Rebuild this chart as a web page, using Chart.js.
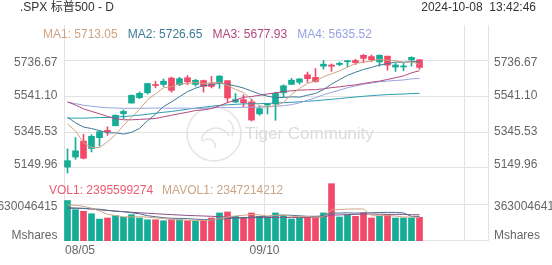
<!DOCTYPE html>
<html>
<head>
<meta charset="utf-8">
<script src="https://cdn.jsdelivr.net/npm/chart.js@4.4.0/dist/chart.umd.min.js"></script>
<style>
body { margin: 0; background: #fff; }
#wrap { position: relative; width: 552px; height: 265px; }
</style>
</head>
<body>
<div id="wrap"><canvas id="kline"></canvas></div>
<script>
// trading days shown
var dates = ['08/05','08/06','08/07','08/08','08/09','08/12','08/13','08/14','08/15','08/16',
  '08/19','08/20','08/21','08/22','08/23','08/26','08/27','08/28','08/29','08/30',
  '09/03','09/04','09/05','09/06','09/09','09/10','09/11','09/12','09/13','09/16',
  '09/17','09/18','09/19','09/20','09/23','09/24','09/25','09/26','09/27','09/30',
  '10/01','10/02','10/03','10/04','10/07'];

var opens = [5151.14,5206.42,5293.13,5252.57,5311.97,5351.88,5376.98,5442.82,5501.13,5530.50,
  5557.23,5602.88,5603.09,5637.77,5602.06,5639.66,5602.89,5624.50,5607.30,5612.74,
  5623.89,5506.68,5520.08,5507.33,5442.07,5490.51,5496.42,5557.48,5603.34,5615.21,
  5655.51,5641.68,5702.63,5709.20,5711.90,5727.07,5733.96,5762.22,5755.36,5726.52,
  5757.73,5698.19,5698.56,5737.80,5737.80];
var highs = [5250.89,5312.34,5330.64,5328.03,5350.72,5371.20,5436.50,5463.22,5546.23,5561.98,
  5608.30,5620.51,5632.68,5643.22,5641.82,5651.62,5631.18,5627.03,5646.95,5651.37,
  5623.89,5552.99,5546.30,5522.47,5484.20,5497.91,5560.41,5600.71,5636.27,5636.05,
  5670.81,5689.75,5733.57,5715.14,5725.36,5735.32,5741.03,5767.37,5763.78,5765.14,
  5757.73,5719.14,5718.78,5753.97,5739.34];
var lows = [5119.26,5193.56,5195.54,5233.85,5265.74,5324.37,5376.98,5415.18,5501.13,5525.23,
  5550.74,5584.48,5591.57,5560.95,5595.98,5602.34,5593.48,5560.95,5583.71,5581.79,
  5504.33,5503.41,5480.76,5402.62,5434.49,5441.72,5406.96,5535.50,5601.65,5604.53,
  5614.05,5615.08,5686.42,5674.49,5704.94,5698.99,5712.06,5721.01,5727.34,5703.53,
  5681.28,5674.00,5677.37,5702.52,5686.85];
var closes = [5186.33,5240.03,5199.50,5319.31,5344.16,5344.39,5434.43,5455.21,5543.22,5554.25,
  5608.25,5597.12,5620.85,5570.64,5634.61,5616.84,5625.80,5592.18,5591.96,5648.40,
  5528.93,5520.07,5503.41,5408.42,5471.05,5495.52,5554.13,5595.76,5626.02,5633.09,
  5634.58,5618.26,5713.64,5702.55,5718.57,5732.93,5722.26,5745.37,5738.17,5762.48,
  5708.75,5709.54,5699.94,5751.07,5695.94];

// moving averages as shown on the chart
var ma1 = [5387.66,5348.38,5283.82,5258.35,5257.87,5289.48,5328.36,5379.50,5424.28,5466.30,
  5519.07,5551.61,5584.74,5590.22,5606.29,5608.01,5613.75,5608.01,5612.28,5615.04,
  5597.45,5576.31,5558.55,5521.85,5486.38,5479.69,5486.51,5504.98,5548.50,5580.90,
  5608.72,5621.54,5645.12,5660.42,5677.52,5697.19,5717.99,5724.34,5731.46,5740.24,
  5735.41,5732.86,5723.78,5726.36,5713.05];
var ma2 = [5424.30,5392.73,5369.97,5361.98,5350.49,5338.57,5338.37,5331.66,5341.31,5362.08,
  5404.28,5439.98,5482.12,5507.25,5536.30,5563.54,5582.68,5596.38,5601.25,5610.67,
  5602.73,5595.03,5583.28,5567.06,5550.71,5538.57,5531.41,5531.77,5535.17,5533.64,
  5544.21,5554.02,5575.05,5604.46,5629.21,5652.95,5669.77,5684.73,5695.94,5708.88,
  5716.30,5725.43,5724.06,5728.91,5726.65];
var ma3 = [5507.73,5490.88,5469.16,5455.90,5442.34,5428.00,5416.36,5409.70,5409.64,5412.10,
  5414.29,5416.36,5426.04,5434.62,5443.39,5451.06,5460.52,5464.02,5471.28,5486.37,
  5503.50,5517.51,5532.70,5537.16,5543.50,5551.06,5557.04,5564.07,5568.21,5572.15,
  5573.47,5574.53,5579.17,5585.76,5589.96,5595.76,5600.59,5608.25,5615.56,5621.26,
  5630.25,5639.73,5649.55,5666.68,5677.93];
var ma4 = [5505.14,5498.21,5489.22,5483.93,5479.31,5475.44,5474.08,5472.29,5472.49,5472.06,
  5473.24,5473.91,5473.48,5473.01,5473.66,5473.18,5471.80,5471.93,5473.51,5478.29,
  5477.10,5475.92,5478.46,5478.76,5479.16,5480.23,5484.15,5486.60,5492.58,5502.13,
  5517.07,5529.68,5546.82,5559.59,5572.07,5585.02,5594.62,5604.29,5610.79,5617.73,
  5621.08,5624.83,5627.46,5633.48,5635.52];
var ma5 = [5418.53,5418.96,5418.58,5420.21,5421.83,5422.44,5424.73,5427.26,5431.18,5435.06,
  5440.08,5445.57,5450.83,5455.24,5461.37,5467.73,5473.53,5478.68,5483.69,5488.60,
  5491.53,5494.41,5496.79,5497.34,5498.18,5499.20,5501.25,5503.29,5505.61,5508.27,
  5511.10,5513.94,5518.02,5521.76,5525.69,5530.23,5534.35,5538.29,5541.64,5544.90,
  5547.16,5549.37,5550.47,5553.25,5554.59];

var volumes = [4.08e9,3.16e9,3.00e9,2.75e9,2.21e9,2.32e9,2.55e9,2.39e9,2.65e9,2.32e9,
  2.14e9,2.14e9,2.04e9,2.14e9,2.14e9,2.04e9,1.98e9,2.08e9,2.32e9,2.83e9,
  2.93e9,2.49e9,2.39e9,2.83e9,2.49e9,2.39e9,2.83e9,2.55e9,2.21e9,2.32e9,
  2.42e9,2.42e9,2.83e9,5.78e9,2.42e9,2.65e9,2.49e9,2.83e9,2.32e9,2.49e9,
  2.65e9,2.32e9,2.32e9,2.32e9,2395599274];
var mavol1 = [3.65e9,3.60e9,3.50e9,3.30e9,3.04e9,2.69e9,2.57e9,2.44e9,2.42e9,2.45e9,
  2.41e9,2.33e9,2.26e9,2.16e9,2.12e9,2.10e9,2.07e9,2.08e9,2.11e9,2.25e9,
  2.43e9,2.53e9,2.59e9,2.69e9,2.63e9,2.52e9,2.59e9,2.62e9,2.49e9,2.46e9,
  2.47e9,2.38e9,2.44e9,3.15e9,3.17e9,3.22e9,3.23e9,3.23e9,2.54e9,2.56e9,
  2.56e9,2.52e9,2.42e9,2.42e9,2347214212];
var mavol2 = [3.30e9,3.30e9,3.30e9,3.25e9,3.20e9,3.10e9,3.00e9,2.95e9,2.85e9,2.74e9,
  2.55e9,2.45e9,2.35e9,2.29e9,2.28e9,2.26e9,2.20e9,2.17e9,2.13e9,2.19e9,
  2.26e9,2.30e9,2.33e9,2.40e9,2.44e9,2.47e9,2.56e9,2.61e9,2.59e9,2.54e9,
  2.49e9,2.49e9,2.53e9,2.82e9,2.82e9,2.84e9,2.81e9,2.84e9,2.85e9,2.87e9,
  2.89e9,2.88e9,2.83e9,2.48e9,2.48e9];
var mavol3 = [3.35e9,3.32e9,3.28e9,3.22e9,3.15e9,3.08e9,3.02e9,2.96e9,2.90e9,2.85e9,
  2.80e9,2.75e9,2.70e9,2.66e9,2.62e9,2.58e9,2.55e9,2.52e9,2.49e9,2.46e9,
  2.41e9,2.37e9,2.34e9,2.35e9,2.36e9,2.36e9,2.38e9,2.39e9,2.36e9,2.36e9,
  2.38e9,2.39e9,2.43e9,2.61e9,2.63e9,2.66e9,2.68e9,2.72e9,2.72e9,2.70e9,
  2.69e9,2.68e9,2.68e9,2.65e9,2.65e9];

var priceTicks = [5149.96, 5345.53, 5541.10, 5736.67];
var volTick = 3630046415;
var volUnit = 'Mshares';
var gridSlots = [0, 25, 50];
var axisDates = ['08/05', '09/10'];

var UP = '#15ad96';
var DOWN = '#f2496a';
var MA_COLORS = ['#cfa281', '#3f7a96', '#b2487c', '#98a2e0', '#2b9bb0'];
var VOL_MA_COLORS = ['#d0a686', '#4d6f90', '#8d4f88'];
var FONT = "'Liberation Sans', Arial, 'Noto Sans CJK SC', sans-serif";

function pts(arr) {
    return arr.map(function (v, i) { return { x: i, y: v }; });
}
var colors = dates.map(function (d, i) { return closes[i] >= opens[i] ? UP : DOWN; });

function line(arr, color, axis) {
    return {
        type: 'line', data: pts(arr), yAxisID: axis, borderColor: color,
        borderWidth: 1, pointRadius: 0, tension: 0, fill: false, order: 0
    };
}

var decor = {
    id: 'decor',
    beforeDatasetsDraw: function (chart) {
        var ctx = chart.ctx, area = chart.chartArea;
        var x = chart.scales.x, y = chart.scales.y, yv = chart.scales.yv;
        ctx.save();
        ctx.strokeStyle = '#e2e2e2';
        ctx.lineWidth = 1;
        ctx.beginPath();
        priceTicks.forEach(function (v) {
            var py = Math.round(y.getPixelForValue(v)) + 0.5;
            ctx.moveTo(area.left, py); ctx.lineTo(area.right, py);
        });
        [volTick, 0].forEach(function (v) {
            var py = Math.round(yv.getPixelForValue(v)) - 0.5;
            ctx.moveTo(area.left, py); ctx.lineTo(area.right, py);
        });
        gridSlots.forEach(function (i) {
            var px = Math.round(x.getPixelForValue(i) - 3.5) + 0.5;
            ctx.moveTo(px, area.top); ctx.lineTo(px, area.bottom);
        });
        var rx = Math.round(area.right) + 0.5;
        ctx.moveTo(rx, area.top); ctx.lineTo(rx, area.bottom);
        ctx.stroke();

        // watermark
        ctx.strokeStyle = '#e4e4e4';
        ctx.lineWidth = 1.5;
        ctx.beginPath();
        ctx.arc(214, 134, 27, 0, Math.PI * 2);
        ctx.stroke();
        ctx.beginPath();
        ctx.arc(216, 143, 15, Math.PI * 1.05, Math.PI * 1.85);
        ctx.stroke();
        ctx.beginPath();
        ctx.arc(208, 146, 7, Math.PI * 1.2, Math.PI * 2.1);
        ctx.stroke();
        ctx.beginPath();
        ctx.moveTo(228, 120); ctx.quadraticCurveTo(236, 126, 232, 136);
        ctx.stroke();
        ctx.fillStyle = '#dcdcdc';
        ctx.font = '17px ' + FONT;
        ctx.textBaseline = 'middle';
        ctx.fillText('Tiger Community', 245, 134);
        ctx.restore();
    },
    afterDraw: function (chart) {
        var ctx = chart.ctx, area = chart.chartArea;
        var x = chart.scales.x, y = chart.scales.y, yv = chart.scales.yv;
        var last = dates.length - 1;
        ctx.save();
        ctx.font = '12px ' + FONT;
        ctx.textBaseline = 'middle';

        ctx.fillStyle = '#333';
        ctx.textAlign = 'left';
        ctx.fillText('.SPX 标普500 - D', 20, 8);
        ctx.textAlign = 'right';
        ctx.fillText('2024-10-08  13:42:46', 536, 8);

        // MA legend
        ctx.textAlign = 'left';
        var lx = 43;
        [ma1, ma2, ma3, ma4].forEach(function (arr, k) {
            var t = 'MA' + (k + 1) + ': ' + arr[last].toFixed(2);
            ctx.fillStyle = MA_COLORS[k];
            ctx.fillText(t, lx, 34.5);
            lx += ctx.measureText(t).width + 10;
        });

        // volume legend
        var t1 = 'VOL1: ' + volumes[last];
        ctx.fillStyle = '#ee5a70';
        ctx.fillText(t1, 49, 191);
        ctx.fillStyle = '#c9a585';
        ctx.fillText('MAVOL1: ' + mavol1[last], 49 + ctx.measureText(t1).width + 9, 191);

        // axis labels, both sides
        ctx.fillStyle = '#666';
        priceTicks.forEach(function (v, k) {
            var py = y.getPixelForValue(v);
            if (k === 0) py -= 3;
            if (k === priceTicks.length - 1) py += 3;
            var s = v.toFixed(2);
            ctx.textAlign = 'right'; ctx.fillText(s, area.left - 6.5, py);
            ctx.textAlign = 'left'; ctx.fillText(s, area.right + 6, py);
        });
        var vy = yv.getPixelForValue(volTick) + 2;
        var uy = yv.getPixelForValue(0) - 5;
        ctx.textAlign = 'right';
        ctx.fillText(String(volTick), area.left - 6.5, vy);
        ctx.fillText(volUnit, area.left - 6.5, uy);
        ctx.textAlign = 'left';
        ctx.fillText(String(volTick), area.right + 6, vy);
        ctx.fillText(volUnit, area.right + 6, uy);

        // date labels
        axisDates.forEach(function (d) {
            var i = dates.indexOf(d);
            var px = Math.round(x.getPixelForValue(i) - 3.5) + 0.5;
            var w = ctx.measureText(d).width;
            var left = Math.max(px - w / 2, area.left + 1);
            ctx.textAlign = 'left';
            ctx.fillText(d, left, 251);
        });
        ctx.restore();
    }
};

new Chart(document.getElementById('kline'), {
    data: {
        datasets: [
            line(ma1, MA_COLORS[0], 'y'),
            line(ma2, MA_COLORS[1], 'y'),
            line(ma3, MA_COLORS[2], 'y'),
            line(ma4, MA_COLORS[3], 'y'),
            line(ma5, MA_COLORS[4], 'y'),
            line(mavol1, VOL_MA_COLORS[0], 'yv'),
            line(mavol2, VOL_MA_COLORS[1], 'yv'),
            line(mavol3, VOL_MA_COLORS[2], 'yv'),
            {
                type: 'bar', yAxisID: 'y', order: 1, grouped: false,
                data: dates.map(function (d, i) { return { x: i, y: [opens[i], closes[i]] }; }),
                backgroundColor: colors, barThickness: 6, minBarLength: 1
            },
            {
                type: 'bar', yAxisID: 'y', order: 2, grouped: false,
                data: dates.map(function (d, i) { return { x: i, y: [lows[i], highs[i]] }; }),
                backgroundColor: colors, barThickness: 1
            },
            {
                type: 'bar', yAxisID: 'yv', order: 3, grouped: false,
                data: pts(volumes),
                backgroundColor: colors, barThickness: 6
            }
        ]
    },
    options: {
        responsive: true,
        maintainAspectRatio: false,
        animation: false,
        layout: { padding: { left: 64, right: 64, top: 25, bottom: 24 } },
        plugins: { legend: { display: false }, tooltip: { enabled: false } },
        scales: {
            x: { type: 'linear', display: false, offset: false, min: -0.4375, max: 52.5625 },
            y: { display: false, min: 4747, max: 5928 },
            yv: { display: false, min: 0, max: 2.178e10 }
        }
    },
    plugins: [decor]
});
</script>
</body>
</html>
